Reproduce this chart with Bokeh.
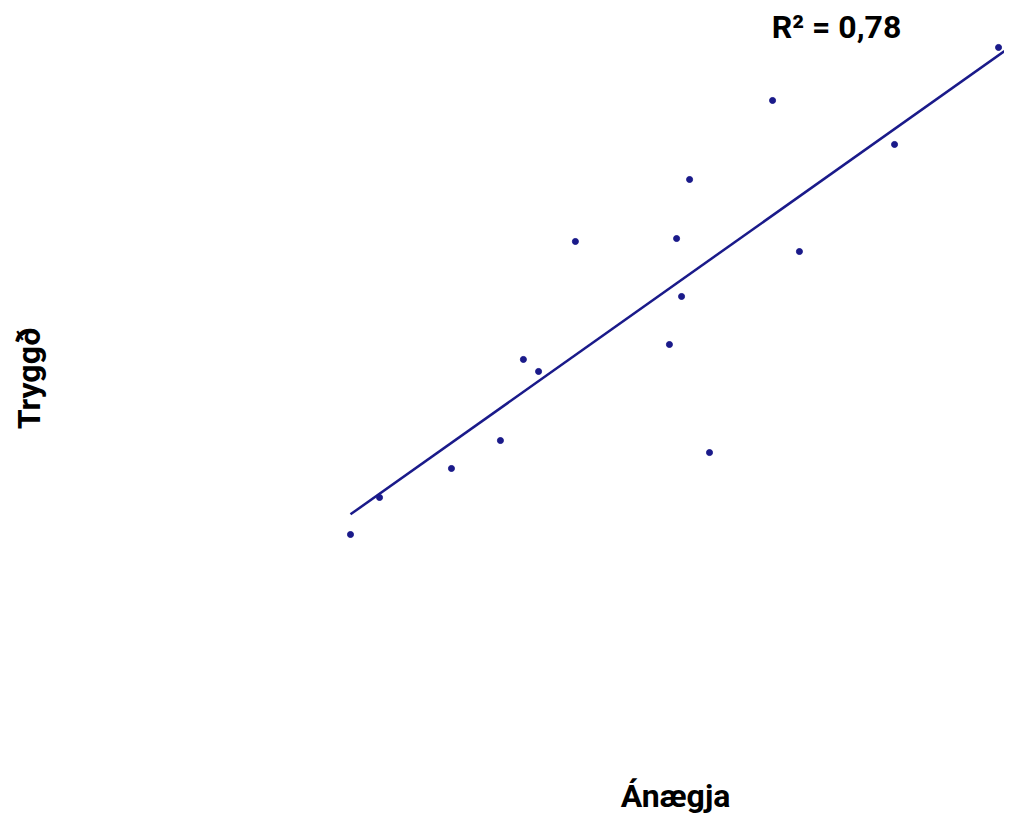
import numpy as np
from bokeh.plotting import figure
from bokeh.models import Range1d, Label
from bokeh.embed import file_html
from bokeh.resources import INLINE

# Data
anaegja = [60.0, 61.34, 64.66, 66.92, 67.98, 68.68, 70.38, 74.72, 75.05, 75.28,
           75.65, 76.57, 79.48, 80.72, 85.11, 89.91]
tryggd = [50.0, 53.02, 55.39, 57.67, 64.29, 63.31, 73.92, 65.51, 74.16, 69.43,
          78.98, 56.69, 85.43, 73.10, 81.84, 89.76]
r2_label = "R² = 0,78"
x_title = "Ánægja"
y_title = "Tryggð"

W, H = 1004, 817
x0, x1 = 43.846, 90.185
y0, y1 = 26.898, 93.592

p = figure(width=W, height=H, output_backend="svg", toolbar_location=None,
           x_range=Range1d(x0, x1), y_range=Range1d(y0, y1), min_border=0)
p.axis.visible = False
p.grid.visible = False
p.outline_line_color = None
p.background_fill_color = "white"
p.border_fill_color = "white"

col = "#1a1a8a"
xs = np.array(anaegja)
ys = np.array(tryggd)
m, b = np.polyfit(xs, ys, 1)
lx = np.array([xs.min(), x1])
p.line(lx, m * lx + b, line_color=col, line_width=2.5)
p.scatter(xs, ys, size=6, color=col, marker="circle")

font = "Liberation Sans Narrow, Arial Narrow, Roboto, sans-serif"
p.add_layout(Label(x=836, y=791, x_units="screen", y_units="screen", text=r2_label,
                   text_font=font, text_font_size="32px", text_font_style="bold",
                   text_align="center", text_baseline="alphabetic", text_color="black"))
p.add_layout(Label(x=28, y=439, x_units="screen", y_units="screen", text=y_title,
                   angle=np.pi / 2, text_font=font, text_font_size="32px",
                   text_font_style="bold", text_align="center", text_baseline="middle",
                   text_color="black"))
p.add_layout(Label(x=675, y=22, x_units="screen", y_units="screen", text=x_title,
                   text_font=font, text_font_size="32px", text_font_style="bold",
                   text_align="center", text_baseline="alphabetic", text_color="black"))

open("out.html", "w").write(file_html(p, INLINE))
